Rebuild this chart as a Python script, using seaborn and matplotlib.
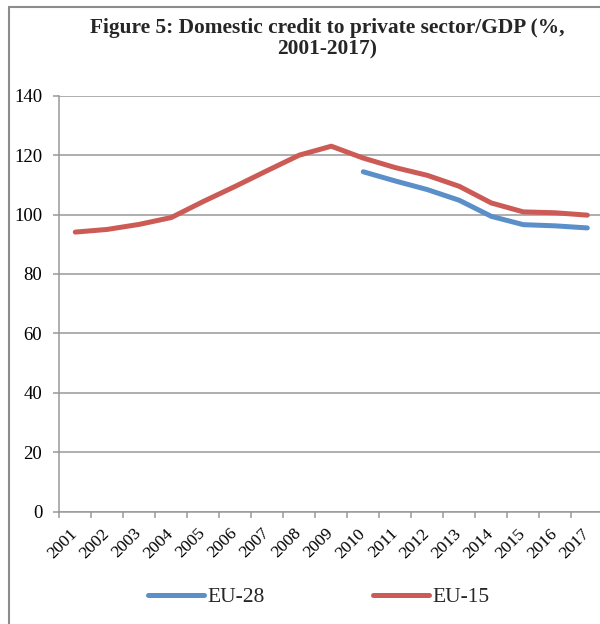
import numpy as np
import pandas as pd
import matplotlib
matplotlib.use("Agg")
import matplotlib.pyplot as plt
from matplotlib.lines import Line2D
import seaborn as sns

years = list(range(2001, 2018))
eu28 = [np.nan] * 9 + [114.4, 111.3, 108.4, 104.8, 99.4, 96.6, 96.2, 95.5]
eu15 = [94.1, 95.0, 96.7, 99.0, 104.4, 109.5, 114.8, 120.0, 123.0,
        119.0, 115.8, 113.2, 109.5, 103.9, 100.9, 100.6, 99.8]
series_names = ["EU-28", "EU-15"]
title = "Figure 5: Domestic credit to private sector/GDP (%,\n2001-2017)"

colors = {"EU-28": "#5B8FC9", "EU-15": "#CD5B55"}
grid_gray = "#999999"

df = pd.DataFrame({"year": years, "EU-28": eu28, "EU-15": eu15})
long = df.melt(id_vars="year", var_name="series", value_name="value").dropna()

sns.set_theme(style="white")
plt.rcParams["font.family"] = ["Liberation Serif", "DejaVu Serif"]

fig = plt.figure(figsize=(6.0, 6.24), dpi=100)
ax = fig.add_axes([59.3 / 600, 1 - 511.7 / 624, 544 / 600, (511.7 - 95.7) / 624])

sns.lineplot(data=long, x="year", y="value", hue="series",
             hue_order=series_names, palette=colors, linewidth=3.6,
             legend=False, ax=ax, solid_capstyle="round")

ax.set_xlim(2000.5, 2017.5)
ax.set_ylim(0, 140)
ax.set_yticks(np.arange(0, 141, 20))
ax.yaxis.grid(True, color=grid_gray, linewidth=1.1)
ax.set_axisbelow(True)
ax.set_xlabel("")
ax.set_ylabel("")

for side in ["top", "right"]:
    ax.spines[side].set_visible(False)
for side in ["left", "bottom"]:
    ax.spines[side].set_color(grid_gray)
    ax.spines[side].set_linewidth(1.1)

# Year labels at category centres, tick marks on category boundaries
ax.set_xticks(years)
ax.set_xticklabels([str(y) for y in years], rotation=45, ha="right",
                   va="center", rotation_mode="anchor", fontsize=12.5)
ax.set_xticks(np.arange(2000.5, 2017.6, 1.0), minor=True)
ax.tick_params(axis="x", which="major", length=0, pad=14)
ax.tick_params(axis="x", which="minor", length=4.3, width=1.1,
               color=grid_gray, direction="out", bottom=True)
ax.tick_params(axis="y", which="major", length=4.3, width=1.1,
               color=grid_gray, direction="out", left=True, pad=8,
               labelsize=13.5)
for lab in ax.get_yticklabels() + ax.get_xticklabels():
    lab.set_color("black")

fig.text(327 / 600, 1 - 18 / 624, title, ha="center", va="top",
         fontsize=15.4, fontweight="bold", linespacing=1.1)

handles = [Line2D([], [], color=colors[s], linewidth=3.6,
                  solid_capstyle="round") for s in series_names]
fig.legend(handles, series_names, loc="center left", ncol=2,
           bbox_to_anchor=(148 / 600, 1 - 597 / 624), frameon=False,
           fontsize=15.5, handlelength=2.6, handletextpad=0.15,
           columnspacing=5.05, borderaxespad=0, borderpad=0)

# Outer chart frame
fig.add_artist(Line2D([9 / 600, 9 / 600], [0, 1 - 7 / 624],
                      transform=fig.transFigure, color="#8c8c8c",
                      linewidth=1.5))
fig.add_artist(Line2D([9 / 600, 1], [1 - 7 / 624, 1 - 7 / 624],
                      transform=fig.transFigure, color="#8c8c8c",
                      linewidth=1.5))

fig.savefig("out.png", dpi=100)
